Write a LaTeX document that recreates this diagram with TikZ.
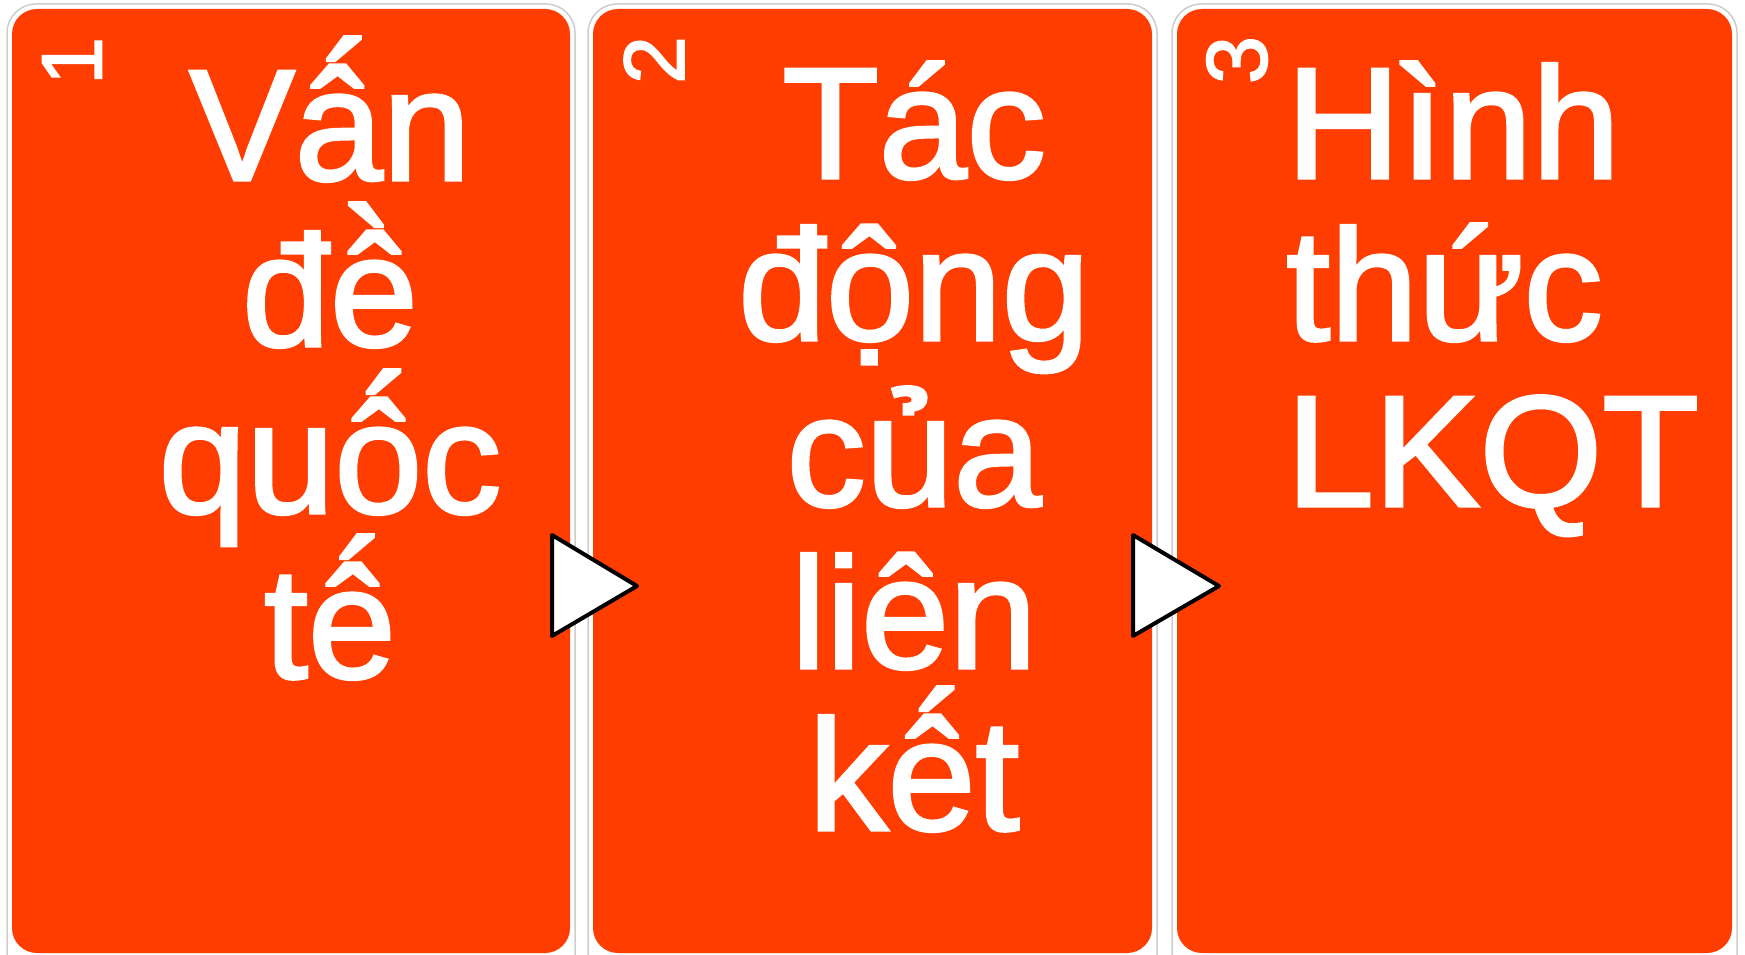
\documentclass[tikz,border=0pt]{standalone}
\usepackage{fontspec}
\setmainfont{Liberation Sans}
\newfontfamily\heavysans[FakeBold=2]{Liberation Sans}
\definecolor{panelred}{RGB}{255,61,0}
\definecolor{rimgray}{RGB}{205,205,205}
% stack an accent glyph over an accented base letter
\newcommand{\accover}[4]{\leavevmode\setbox0\hbox{#1}\setbox2\hbox{#2}%
  \rlap{\kern\dimexpr(\wd0-\wd2)/2+#4\relax\raisebox{#3}{\box2}}\box0}
\newcommand{\aca}{\accover{â}{´}{0.17em}{0.06em}}
\newcommand{\eca}{\accover{ê}{´}{0.17em}{0.06em}}
\newcommand{\oca}{\accover{ô}{´}{0.17em}{0.06em}}
\newcommand{\ecg}{\accover{ê}{`}{0.17em}{-0.04em}}
\tikzset{
  outerbox/.style={draw=rimgray, line width=1.5pt, fill=white, rounded corners=29pt},
  innerbox/.style={fill=panelred, rounded corners=25pt},
  bigtext/.style={text=white, inner sep=0pt, font=\heavysans\fontsize{158}{166}\selectfont},
  numtext/.style={text=white, inner sep=0pt, rotate=90, font=\heavysans\fontsize{86}{86}\selectfont},
  arrowtri/.style={draw=black, fill=white, line width=4pt, line join=round}
}
\begin{document}
\begin{tikzpicture}[x=1pt,y=-1pt]
\useasboundingbox (0,0) rectangle (1745,955);
\clip (0,0) rectangle (1745,955);
% panels
\draw[outerbox] (7,4) rectangle (575,990);
\fill[innerbox] (12,9) rectangle (570,953);
\draw[outerbox] (588,4) rectangle (1157,990);
\fill[innerbox] (593,9) rectangle (1152,953);
\draw[outerbox] (1172,4) rectangle (1737,990);
\fill[innerbox] (1177,9) rectangle (1732,953);
% numbers
\node[numtext] (n1) at (72,61) {1};
\node[numtext] (n2) at (654,60) {2};
\node[numtext] (n3) at (1237,60) {3};
% panel 1 text
\node[bigtext, anchor=base] (a1) at (330,180) {V\aca n};
\node[bigtext, anchor=base] (a2) at (330,346) {đ\ecg};
\node[bigtext, anchor=base] (a3) at (330,513) {qu\oca c};
\node[bigtext, anchor=base] (a4) at (330,678) {t\eca};
% panel 2 text
\node[bigtext, anchor=base] (b1) at (914,178) {Tác};
\node[bigtext, anchor=base] (b2) at (914,340) {động};
\node[bigtext, anchor=base] (b3) at (914,506) {của};
\node[bigtext, anchor=base] (b4) at (914,668) {liên};
\node[bigtext, anchor=base] (b5) at (914,830) {k\eca t};
% panel 3 text
\node[bigtext, anchor=base west] (c1) at (1286,178) {Hình};
\node[bigtext, anchor=base west] (c2) at (1286,340) {thức};
\node[bigtext, anchor=base west] (c3) at (1286,506) {LKQT};
% arrows
\draw[arrowtri] (552,535) -- (637,586) -- (552,636) -- cycle;
\draw[arrowtri] (1133,535) -- (1219,586) -- (1133,636) -- cycle;
\end{tikzpicture}
\end{document}
